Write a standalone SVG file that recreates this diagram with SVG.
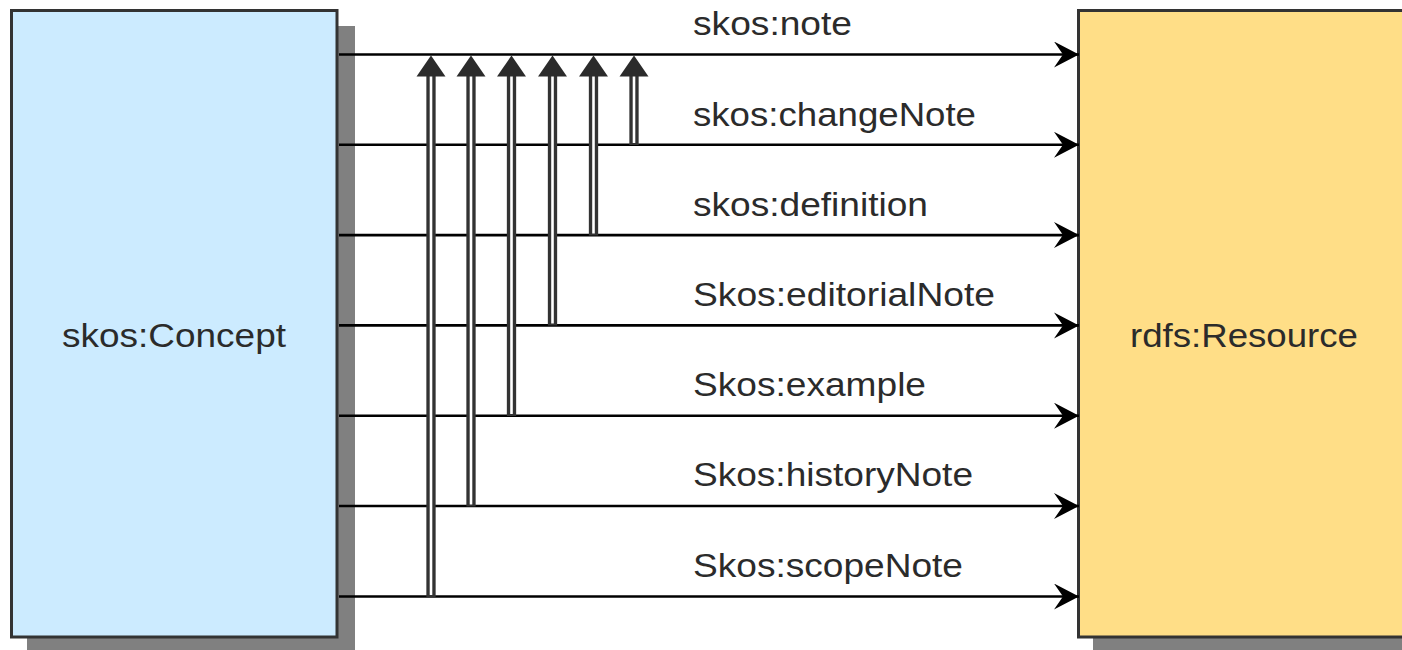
<svg xmlns="http://www.w3.org/2000/svg" width="1402" height="650" viewBox="0 0 1402 650">
<style>
.shadow{fill:#808080}
.box{stroke:#333;stroke-width:3}
.lbl{font-family:"Liberation Sans",Arial,sans-serif;font-size:34px;fill:#2b2b2b}
.h{stroke:#000;stroke-width:2.6;fill:none}
.dout{stroke:#333;stroke-width:9.3}
.din{stroke:#fff;stroke-width:2.6}
.tri{fill:#2b2b2b}
</style>
<defs>
<marker id="ah" markerUnits="userSpaceOnUse" markerWidth="26" markerHeight="28" refX="25" refY="13" orient="auto">
<path d="M25,13 L0,0 L9,13 L0,26 Z" fill="#000"/>
</marker>
</defs>
<g id="concept">
<rect class="shadow" x="27" y="26" width="328" height="630"/>
<rect class="box" x="11.5" y="10.5" width="325.5" height="626.5" fill="#CCEBFF"/>
<text class="lbl" x="174" y="347" text-anchor="middle" textLength="224" lengthAdjust="spacingAndGlyphs">skos:Concept</text>
</g>
<g id="resource">
<rect class="shadow" x="1093" y="26" width="320" height="630"/>
<rect class="box" x="1078.5" y="10.5" width="340" height="626.5" fill="#FFDE87"/>
<text class="lbl" x="1244" y="347" text-anchor="middle" textLength="228" lengthAdjust="spacingAndGlyphs">rdfs:Resource</text>
</g>
<g id="connectors">
<line class="h" x1="339" y1="54.5" x2="1079" y2="54.5" marker-end="url(#ah)"/>
<line class="h" x1="339" y1="144.8" x2="1079" y2="144.8" marker-end="url(#ah)"/>
<line class="h" x1="339" y1="235.1" x2="1079" y2="235.1" marker-end="url(#ah)"/>
<line class="h" x1="339" y1="325.4" x2="1079" y2="325.4" marker-end="url(#ah)"/>
<line class="h" x1="339" y1="415.7" x2="1079" y2="415.7" marker-end="url(#ah)"/>
<line class="h" x1="339" y1="506" x2="1079" y2="506" marker-end="url(#ah)"/>
<line class="h" x1="339" y1="596.5" x2="1079" y2="596.5" marker-end="url(#ah)"/>
<g id="subprops">
<line class="dout" x1="431" y1="75" x2="431" y2="597"/>
<line class="din" x1="431" y1="75" x2="431" y2="595"/>
<line class="dout" x1="471" y1="75" x2="471" y2="506.5"/>
<line class="din" x1="471" y1="75" x2="471" y2="504.5"/>
<line class="dout" x1="511.5" y1="75" x2="511.5" y2="416"/>
<line class="din" x1="511.5" y1="75" x2="511.5" y2="414"/>
<line class="dout" x1="552.5" y1="75" x2="552.5" y2="325.5"/>
<line class="din" x1="552.5" y1="75" x2="552.5" y2="323.5"/>
<line class="dout" x1="593.5" y1="75" x2="593.5" y2="235.5"/>
<line class="din" x1="593.5" y1="75" x2="593.5" y2="233.5"/>
<line class="dout" x1="634" y1="75" x2="634" y2="145"/>
<line class="din" x1="634" y1="75" x2="634" y2="143"/>
<path class="tri" d="M431,55.5 L445.5,76.5 L416.5,76.5 Z"/>
<path class="tri" d="M471,55.5 L485.5,76.5 L456.5,76.5 Z"/>
<path class="tri" d="M511.5,55.5 L526,76.5 L497,76.5 Z"/>
<path class="tri" d="M552.5,55.5 L567,76.5 L538,76.5 Z"/>
<path class="tri" d="M593.5,55.5 L608,76.5 L579,76.5 Z"/>
<path class="tri" d="M634,55.5 L648.5,76.5 L619.5,76.5 Z"/>
</g>
</g>
<g id="labels">
<text class="lbl" x="693" y="35" textLength="159" lengthAdjust="spacingAndGlyphs">skos:note</text>
<text class="lbl" x="693" y="125.5" textLength="283" lengthAdjust="spacingAndGlyphs">skos:changeNote</text>
<text class="lbl" x="693" y="215.5" textLength="235" lengthAdjust="spacingAndGlyphs">skos:definition</text>
<text class="lbl" x="693" y="305.5" textLength="302" lengthAdjust="spacingAndGlyphs">Skos:editorialNote</text>
<text class="lbl" x="693" y="396" textLength="233" lengthAdjust="spacingAndGlyphs">Skos:example</text>
<text class="lbl" x="693" y="486" textLength="280" lengthAdjust="spacingAndGlyphs">Skos:historyNote</text>
<text class="lbl" x="693" y="576.5" textLength="270" lengthAdjust="spacingAndGlyphs">Skos:scopeNote</text>
</g>
</svg>
